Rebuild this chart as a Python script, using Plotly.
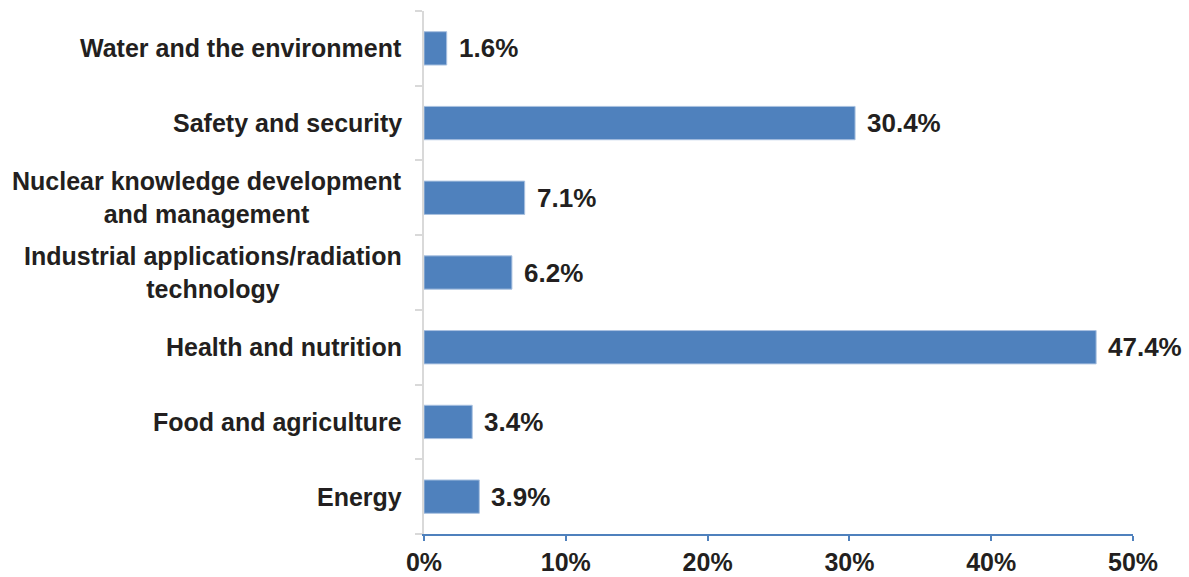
import plotly.graph_objects as go

# Share of projects by technical field (%), listed bottom to top
categories = [
    "Energy",
    "Food and agriculture",
    "Health and nutrition",
    "Industrial applications/radiation<br>technology",
    "Nuclear knowledge development<br>and management",
    "Safety and security",
    "Water and the environment",
]
values = [3.9, 3.4, 47.4, 6.2, 7.1, 30.4, 1.6]
value_labels = ["3.9%", "3.4%", "47.4%", "6.2%", "7.1%", "30.4%", "1.6%"]
x_tick_values = [0, 10, 20, 30, 40, 50]
x_tick_labels = ["0%", "10%", "20%", "30%", "40%", "50%"]

BAR_COLOR = "#4f81bd"
TEXT_COLOR = "#231f20"
FONT = "Liberation Sans, Arial, sans-serif"

fig = go.Figure(
    go.Bar(
        x=values,
        y=categories,
        orientation="h",
        marker=dict(color=BAR_COLOR, line=dict(color="#a9c1e0", width=1)),
        hoverinfo="skip",
    )
)

annotations = []
# value labels just past each bar end
for cat, v, lbl in zip(categories, values, value_labels):
    annotations.append(dict(
        x=v, y=cat, xref="x", yref="y", text=lbl, showarrow=False,
        xanchor="left", xshift=10,
        font=dict(family=FONT, size=26, color=TEXT_COLOR, weight="bold"),
    ))
# category labels, centred lines, right-aligned block
for cat in categories:
    annotations.append(dict(
        x=0, y=cat, xref="paper", yref="y", text=cat, showarrow=False,
        xanchor="right", xshift=-20, align="center",
        font=dict(family=FONT, size=25, color=TEXT_COLOR, weight="bold"),
    ))

fig.update_layout(
    width=1189, height=577,
    margin=dict(l=424, r=56, t=11, b=43),
    paper_bgcolor="white", plot_bgcolor="white",
    bargap=0.554,
    showlegend=False,
    annotations=annotations,
    xaxis=dict(
        range=[0, 50], tickvals=x_tick_values, ticktext=x_tick_labels,
        showgrid=False, zeroline=False, automargin=False,
        showline=True, linecolor=BAR_COLOR, linewidth=2,
        ticks="outside", ticklen=5, tickwidth=2, tickcolor=BAR_COLOR,
        ticklabelstandoff=0,
        tickfont=dict(family=FONT, size=25, color=TEXT_COLOR, weight="bold"),
    ),
    yaxis=dict(
        type="category", categoryorder="array", categoryarray=categories,
        showticklabels=False, showgrid=False, zeroline=False, automargin=False,
        showline=True, linecolor="#d9d9d9", linewidth=2,
        ticks="outside", ticklen=7, tickwidth=2, tickcolor="#d9d9d9",
        tickson="boundaries",
    ),
)

fig.write_html("out.html")
